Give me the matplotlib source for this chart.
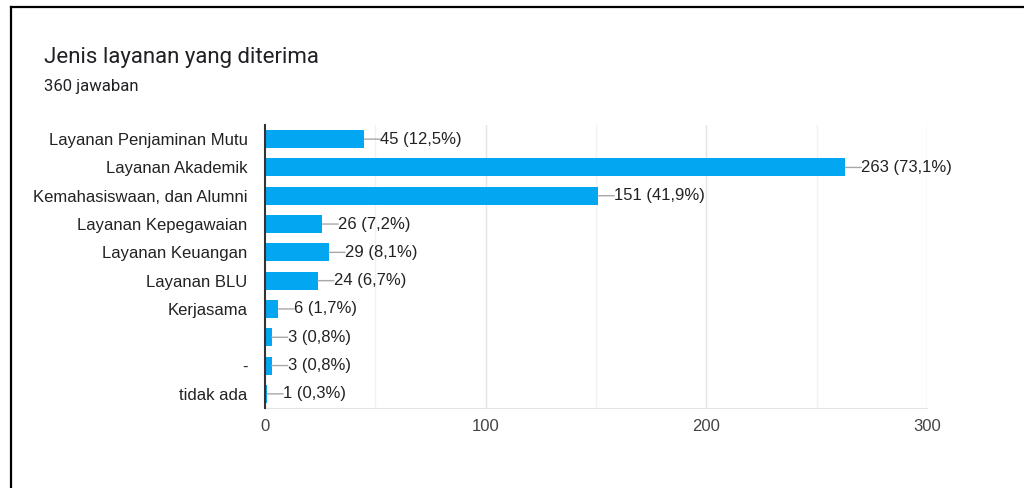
import matplotlib.pyplot as plt
from matplotlib.lines import Line2D

# survey answers, top to bottom
categories = ['Layanan Penjaminan Mutu', 'Layanan Akademik', 'Kemahasiswaan, dan Alumni',
              'Layanan Kepegawaian', 'Layanan Keuangan', 'Layanan BLU', 'Kerjasama',
              '', '-', 'tidak ada']
counts = [45, 263, 151, 26, 29, 24, 6, 3, 3, 1]
total = 360
xticks = [0, 100, 200, 300]

BAR = '#03a7f1'
plt.rcParams['font.family'] = ['Liberation Sans', 'DejaVu Sans']

fig = plt.figure(figsize=(10.24, 4.88), dpi=100)
ax = fig.add_axes([0.2588, 0.1639, 0.6465, 0.58])

ypos = list(range(len(categories)))
ax.barh(ypos, counts, height=0.64, color=BAR, zorder=3)
ax.set_ylim(len(categories) - 0.5, -0.5)
ax.set_xlim(0, 300)

# light grid, fainter halfway lines
for x in [50, 150, 250]:
    ax.axvline(x, color='#f2f2f2', lw=1, zorder=0)
for x in [100, 200, 300]:
    ax.axvline(x, color='#e4e4e4', lw=1, zorder=0)

for s in ['top', 'right']:
    ax.spines[s].set_visible(False)
ax.spines['bottom'].set_color('#e4e4e4')
ax.spines['left'].set_color('#333333')
ax.spines['left'].set_linewidth(1.5)
ax.spines['left'].set_zorder(4)

ax.set_yticks(ypos)
ax.set_yticklabels(categories, fontsize=12, color='#222222')
ax.set_xticks(xticks)
ax.set_xticklabels([str(t) for t in xticks], fontsize=12, color='#444444')
ax.tick_params(axis='both', length=0)
ax.tick_params(axis='y', pad=12.5)
ax.tick_params(axis='x', pad=8)

# value labels with a short leader line
for i, v in enumerate(counts):
    pct = f'{v / total * 100:.1f}'.replace('.', ',')
    ax.annotate('', xy=(v, i), xytext=(16, 0), textcoords='offset pixels',
                arrowprops=dict(arrowstyle='-', color='#a8a8a8', lw=1, shrinkA=0, shrinkB=0))
    ax.annotate(f'{v} ({pct}%)', xy=(v, i), xytext=(16, 0), textcoords='offset pixels',
                ha='left', va='center', fontsize=12, color='#222222')

fig.text(44 / 1024, 1 - 57 / 488, 'Jenis layanan yang diterima', fontsize=16,
         family='Roboto', color='#202124', va='center')
fig.text(44 / 1024, 1 - 86 / 488, '360 jawaban', fontsize=12,
         family='Roboto', color='#202124', va='center')

# outer frame on the left and top
fig.add_artist(Line2D([10.5 / 1024, 10.5 / 1024], [0, 1 - 7 / 488], color='black', lw=1.6))
fig.add_artist(Line2D([10.5 / 1024, 1], [1 - 7 / 488, 1 - 7 / 488], color='black', lw=1.6))

fig.savefig('out.png', dpi=100)
